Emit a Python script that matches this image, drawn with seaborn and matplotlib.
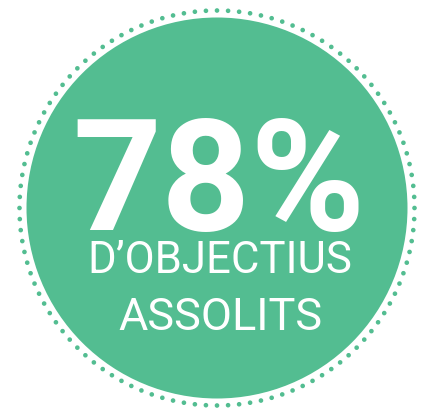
import numpy as np
import pandas as pd
import matplotlib
matplotlib.use("Agg")
import matplotlib.pyplot as plt
from matplotlib.patches import Circle
import seaborn as sns

# Data
value_pct = [78]
label_lines = ["D\u2019OBJECTIUS", "ASSOLITS"]

GREEN = "#53BD91"

sns.set_theme(style="white")
plt.rcParams["font.family"] = ["Roboto", "DejaVu Sans"]

fig = plt.figure(figsize=(4.29, 4.09), dpi=100)
ax = fig.add_axes([0, 0, 1, 1])

cx, cy = 217, 208
# filled disk
ax.add_patch(Circle((cx, cy), 190.5, facecolor=GREEN, edgecolor="none", zorder=1))

# dotted ring (decoration) drawn with seaborn scatter
n_dots = 112
ang = np.linspace(0, 2 * np.pi, n_dots, endpoint=False)
ring = pd.DataFrame({"x": cx + 197.5 * np.cos(ang), "y": cy + 197.5 * np.sin(ang)})
sns.scatterplot(data=ring, x="x", y="y", ax=ax, s=11, color=GREEN,
                edgecolor="none", linewidth=0, legend=False, zorder=2)
ax.set_xlim(0, 429)
ax.set_ylim(409, 0)
ax.set_aspect("equal")
ax.axis("off")

ax.text(219, 230, f"{value_pct[0]}%", color="white", fontsize=112,
        fontweight="bold", ha="center", va="baseline", zorder=3)
ax.text(220, 273, label_lines[0], color="white", fontsize=31.5,
        ha="center", va="baseline", zorder=3)
ax.text(220, 330, label_lines[1], color="white", fontsize=32.5,
        ha="center", va="baseline", zorder=3)

fig.savefig("out.png", dpi=100, facecolor="white")
